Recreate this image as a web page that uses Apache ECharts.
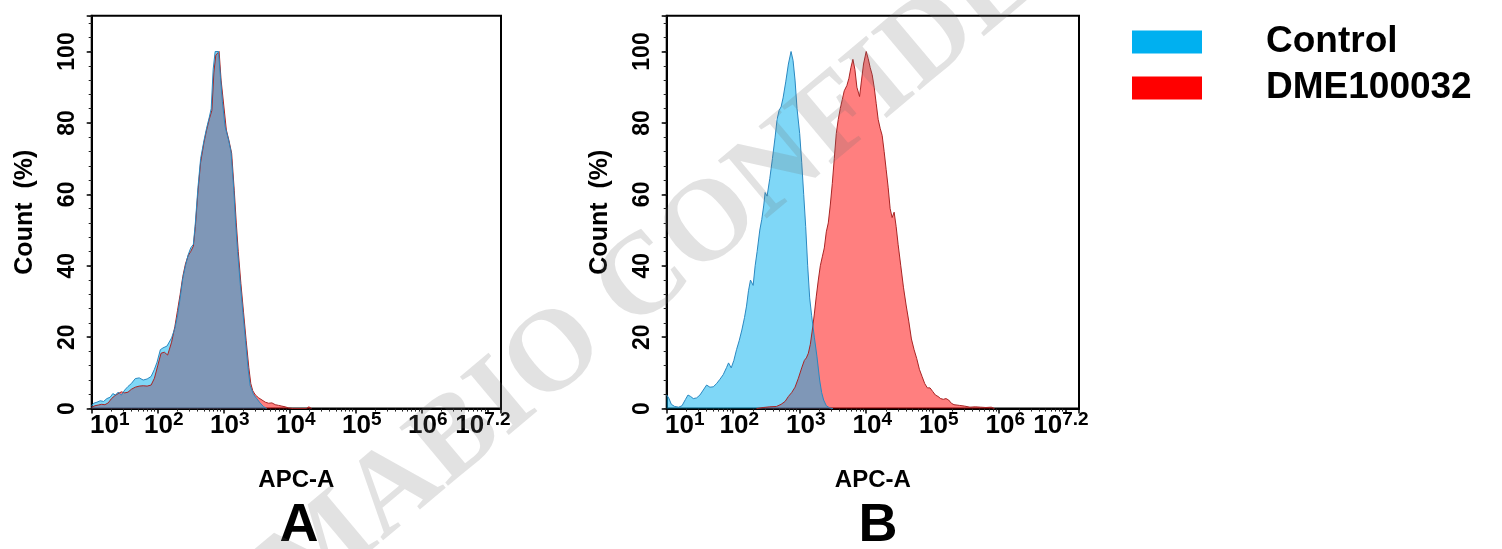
<!DOCTYPE html>
<html>
<head>
<meta charset="utf-8">
<script src="https://cdn.jsdelivr.net/npm/echarts@6/dist/echarts.min.js"></script>
<style>
html,body{margin:0;padding:0;background:#fff;}
#chart{width:1502px;height:549px;}
</style>
</head>
<body>
<div id="chart"></div>
<script>
// ---------- data (x as log10 exponent of APC-A intensity, y = Count %) ----------
const panelLabels = ['A', 'B'];
const seriesNames = ['Control', 'DME100032'];
const xLabelExponents = [1, 2, 3, 4, 5, 6, 7.2];
const yTickLabels = [0, 20, 40, 60, 80, 100];
const watermarkText = 'DIMABIO CONFIDENTIAL';

const controlA = [[1.00,0.8],[1.03,1.5],[1.08,1.8],[1.13,2.2],[1.18,2.0],[1.23,2.8],[1.28,3.2],[1.32,4.2],[1.36,3.8],[1.40,4.6],[1.45,3.8],[1.50,5.2],[1.55,6.2],[1.60,7.0],[1.66,8.4],[1.72,8.6],[1.78,8.0],[1.84,8.3],[1.90,9.0],[1.95,11.0],[1.99,13.0],[2.04,16.5],[2.08,17.0],[2.14,17.5],[2.21,19.8],[2.26,22.5],[2.30,26.0],[2.34,31.0],[2.38,36.5],[2.42,40.0],[2.46,43.0],[2.50,45.0],[2.54,46.0],[2.57,52.0],[2.61,62.0],[2.65,70.0],[2.70,75.0],[2.74,78.5],[2.78,81.5],[2.81,84.0],[2.84,95.0],[2.87,100],[2.92,100],[2.95,93.0],[2.98,86.0],[3.02,79.0],[3.07,75.5],[3.11,72.0],[3.15,62.0],[3.18,52.0],[3.21,44.0],[3.25,35.0],[3.29,27.0],[3.33,19.0],[3.37,11.0],[3.40,6.5],[3.45,4.0],[3.50,2.8],[3.55,1.6],[3.60,0.6],[3.65,0]];

const dmeA = [[1.00,0.4],[1.05,0.8],[1.10,1.0],[1.15,1.2],[1.20,1.1],[1.25,1.6],[1.30,2.8],[1.35,3.6],[1.40,4.2],[1.45,4.7],[1.50,4.4],[1.55,4.6],[1.60,5.4],[1.66,6.0],[1.72,6.3],[1.78,6.4],[1.84,6.3],[1.90,6.6],[1.95,8.5],[2.00,12.0],[2.05,15.5],[2.10,15.8],[2.15,15.0],[2.21,18.6],[2.26,23.0],[2.30,27.5],[2.34,32.0],[2.38,37.0],[2.42,40.5],[2.46,42.8],[2.50,44.0],[2.54,45.5],[2.57,51.0],[2.61,61.0],[2.65,69.0],[2.70,74.5],[2.74,78.0],[2.78,81.0],[2.82,83.5],[2.85,94.0],[2.88,99.0],[2.93,100],[2.96,92.0],[3.00,85.0],[3.04,78.0],[3.08,75.0],[3.12,71.5],[3.16,61.0],[3.19,52.0],[3.22,44.0],[3.26,35.0],[3.30,27.0],[3.34,19.0],[3.38,11.5],[3.41,7.0],[3.44,5.0],[3.48,3.8],[3.53,3.0],[3.58,2.4],[3.63,1.8],[3.68,1.5],[3.73,1.6],[3.78,1.1],[3.83,0.9],[3.88,0.7],[3.93,0.5],[3.98,0.2],[4.05,0],[4.25,0],[4.29,0.5],[4.33,0]];

const controlB = [[1.00,3.8],[1.03,3.0],[1.07,1.2],[1.12,0.6],[1.18,0.4],[1.23,0.8],[1.28,2.5],[1.32,3.8],[1.36,3.4],[1.40,2.8],[1.45,3.0],[1.50,3.8],[1.55,5.2],[1.60,6.6],[1.65,6.0],[1.70,6.1],[1.75,7.0],[1.80,8.2],[1.85,9.5],[1.90,11.5],[1.93,12.8],[1.97,11.4],[2.01,13.5],[2.05,16.5],[2.09,19.0],[2.13,22.0],[2.17,25.5],[2.20,28.7],[2.23,33.0],[2.26,36.0],[2.30,34.5],[2.33,40.0],[2.36,44.0],[2.40,50.0],[2.43,53.0],[2.46,57.0],[2.48,60.5],[2.51,59.5],[2.55,64.4],[2.59,70.0],[2.63,76.0],[2.66,81.0],[2.69,83.5],[2.72,84.5],[2.75,87.0],[2.79,91.5],[2.83,96.5],[2.87,100],[2.90,97.5],[2.93,92.0],[2.96,84.0],[3.00,77.0],[3.03,69.0],[3.06,60.0],[3.09,51.0],[3.12,40.0],[3.15,31.0],[3.18,26.0],[3.22,20.0],[3.26,14.5],[3.30,8.0],[3.33,4.5],[3.36,2.4],[3.40,0.8],[3.45,0.2],[3.50,0]];

const dmeB = [[2.35,0],[2.45,0.3],[2.55,0.5],[2.65,0.6],[2.72,1.2],[2.78,2.0],[2.83,3.4],[2.88,4.5],[2.93,6.0],[2.98,8.5],[3.03,11.4],[3.07,13.5],[3.10,14.2],[3.13,15.5],[3.16,18.0],[3.19,22.0],[3.22,26.5],[3.25,31.5],[3.28,36.0],[3.31,40.0],[3.34,42.5],[3.37,45.0],[3.40,49.5],[3.43,52.0],[3.46,57.0],[3.49,63.0],[3.52,70.0],[3.55,77.0],[3.58,81.0],[3.61,84.0],[3.64,86.5],[3.67,89.0],[3.71,90.5],[3.74,92.5],[3.77,95.5],[3.80,97.8],[3.83,95.0],[3.86,90.0],[3.90,87.4],[3.93,92.0],[3.96,96.5],[4.00,100],[4.03,98.0],[4.06,95.5],[4.09,93.5],[4.12,90.0],[4.15,85.5],[4.18,81.0],[4.21,78.5],[4.24,76.5],[4.27,72.0],[4.30,67.0],[4.33,62.0],[4.36,56.0],[4.39,53.5],[4.42,55.0],[4.45,51.0],[4.48,46.0],[4.52,40.0],[4.56,34.0],[4.60,29.0],[4.64,24.5],[4.68,19.5],[4.72,16.5],[4.76,14.0],[4.80,11.0],[4.84,9.0],[4.88,7.0],[4.92,5.8],[4.96,5.8],[5.00,4.8],[5.04,3.8],[5.08,3.4],[5.12,2.8],[5.16,2.6],[5.20,2.8],[5.24,2.4],[5.28,1.5],[5.32,1.1],[5.40,0.9],[5.48,0.7],[5.56,0.4],[5.64,0.5],[5.72,0.4],[5.80,0.3],[5.88,0.4],[5.93,0]];

// ---------- styling ----------
const FONT = '"Liberation Sans", Arial, Helvetica, sans-serif';
const BLUE = '#00b0f0', RED = '#ff0000';
const BLUE_LINE = '#2a88c0', RED_LINE = '#a82424';
const gridBoxes = [
  {left: 91.7, top: 15.8, width: 409.3, height: 392.8},
  {left: 666.7, top: 15.8, width: 412.3, height: 392.8}
];

function fmtX(value) {
  const e = Math.round(Math.log10(value) * 10) / 10;
  if (xLabelExponents.indexOf(e) < 0) return '';
  if (e === xLabelExponents[0]) return '{bf|10}{s|' + e + '}';
  if (e === xLabelExponents[xLabelExponents.length - 1]) return '{bl|10}{sl|' + e + '}';
  return '{b|10}{s|' + e + '}';
}
const mainTxt = {fontFamily: FONT, fontSize: 26, fontWeight: 'bold', color: '#000', lineHeight: 30};
const supTxt = {fontFamily: FONT, fontSize: 19, fontWeight: 'bold', color: '#000', lineHeight: 19, verticalAlign: 'top'};
const richX = {
  b: Object.assign({}, mainTxt, {padding: [0, 0, 0, 12]}),
  bf: Object.assign({}, mainTxt, {padding: [0, 0, 0, 36]}),
  bl: Object.assign({}, mainTxt),
  s: Object.assign({}, supTxt),
  sl: Object.assign({}, supTxt, {padding: [0, 36, 0, 0]})
};

const grid = [], xAxis = [], yAxis = [], series = [], graphic = [];
const panelData = [[controlA, dmeA], [controlB, dmeB]];

gridBoxes.forEach(function (g, i) {
  grid.push(Object.assign({show: true, borderColor: '#000', borderWidth: 2, backgroundColor: 'transparent', containLabel: false}, g));
  xAxis.push({
    type: 'log', logBase: 10, gridIndex: i, min: 10, max: Math.pow(10, 7.2), interval: 1,
    name: 'APC-A', nameLocation: 'middle', nameGap: 60,
    nameTextStyle: {fontFamily: FONT, fontSize: 24, fontWeight: 'bold', color: '#000'},
    axisLine: {show: true, lineStyle: {color: '#000', width: 2}},
    axisTick: {show: true, length: 5, lineStyle: {color: '#000', width: 1.5}},
    minorTick: {show: true, splitNumber: 9, length: 3, lineStyle: {color: '#222', width: 1}},
    splitLine: {show: false}, minorSplitLine: {show: false},
    axisLabel: {margin: 2, fontFamily: FONT, fontSize: 26, fontWeight: 'bold', color: '#000', lineHeight: 30,
      formatter: fmtX, rich: richX}
  });
  yAxis.push({
    type: 'value', gridIndex: i, min: 0, max: 110, interval: 20, position: 'left',
    name: 'Count  (%)', nameLocation: 'middle', nameGap: 54, nameRotate: 90,
    nameTextStyle: {fontFamily: FONT, fontSize: 25, fontWeight: 'bold', color: '#000'},
    axisLine: {show: true, lineStyle: {color: '#000', width: 2}},
    axisTick: {show: true, length: 5, lineStyle: {color: '#000', width: 1.5}},
    axisLabel: {rotate: 90, margin: 13, fontFamily: FONT, fontSize: 23, fontWeight: 'bold', color: '#000',
      formatter: function (v) { return yTickLabels.indexOf(v) >= 0 ? String(v) : ''; }},
    splitLine: {show: false}
  });
  yAxis.push({
    type: 'value', gridIndex: i, min: 0, max: 110, interval: 4, position: 'left',
    axisLine: {show: false},
    axisTick: {show: true, length: 3, lineStyle: {color: '#222', width: 1}},
    axisLabel: {show: false}, splitLine: {show: false}
  });
  const ctrl = panelData[i][0], dme = panelData[i][1];
  // DME drawn first (underneath), Control on top
  [[seriesNames[1], dme, RED, RED_LINE], [seriesNames[0], ctrl, BLUE, BLUE_LINE]].forEach(function (s) {
    series.push({
      type: 'line', name: s[0], xAxisIndex: i, yAxisIndex: i * 2,
      data: s[1].map(function (p) { return [Math.pow(10, p[0]), p[1]]; }),
      symbol: 'none', showSymbol: false, smooth: false,
      color: s[2], itemStyle: {color: s[2]},
      lineStyle: {color: s[3], width: 1},
      areaStyle: {color: s[2], opacity: 0.5},
      emphasis: {disabled: true}, silent: true
    });
  });
  graphic.push({
    type: 'text', x: [299, 878][i], y: 499, z: 50, silent: true,
    style: {text: panelLabels[i], font: 'bold 54px ' + FONT, fill: '#000',
      textAlign: 'center', align: 'center', textVerticalAlign: 'top', verticalAlign: 'top'}
  });
});

graphic.push({
  type: 'text', x: 742, y: 200, rotation: 40 * Math.PI / 180, z: 100, silent: true,
  style: {text: watermarkText, font: 'bold 116px "Liberation Serif", "DejaVu Serif", serif',
    fill: 'rgba(110,110,110,0.2)', textAlign: 'center', align: 'center',
    textVerticalAlign: 'middle', verticalAlign: 'middle'}
});

const option = {
  animation: false,
  backgroundColor: '#fff',
  grid: grid, xAxis: xAxis, yAxis: yAxis, series: series, graphic: graphic,
  legend: {
    orient: 'vertical', left: 1127, top: 17, itemWidth: 70, itemHeight: 23, itemGap: 6,
    icon: 'rect', selectedMode: false,
    data: [
      {name: seriesNames[0], itemStyle: {color: BLUE, opacity: 1, borderWidth: 0}},
      {name: seriesNames[1], itemStyle: {color: RED, opacity: 1, borderWidth: 0}}
    ],
    textStyle: {fontFamily: FONT, fontSize: 37, fontWeight: 'bold', color: '#000', lineHeight: 40, padding: [0, 0, 0, 59]}
  }
};

const chart = echarts.init(document.getElementById('chart'), null, {renderer: 'canvas'});
chart.setOption(option);
</script>
</body>
</html>
